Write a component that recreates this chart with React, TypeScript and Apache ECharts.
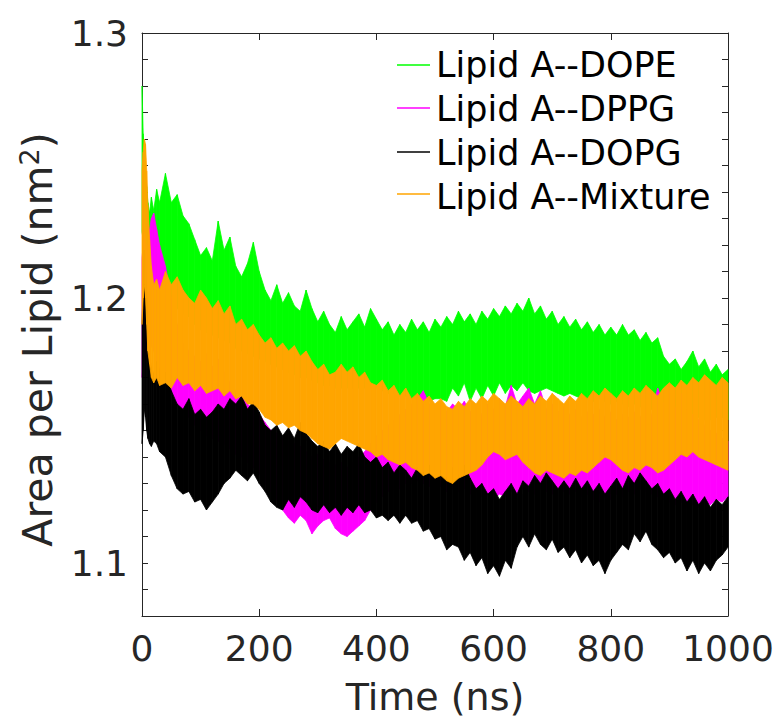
import React, { useEffect, useRef } from 'react';
import * as echarts from 'echarts';

// time (ns)
const TIME = [
  0, 2, 4, 6, 8, 10, 13, 16, 20, 25, 30,
  40, 50, 60, 70, 80, 90, 100, 110, 120, 130,
  140, 150, 160, 170, 180, 190, 200, 210, 220, 230,
  240, 250, 260, 270, 280, 290, 300, 310, 320, 330,
  340, 350, 360, 370, 380, 390, 400, 410, 420, 430,
  440, 450, 460, 470, 480, 490, 500, 510, 520, 530,
  540, 550, 560, 570, 580, 590, 600, 610, 620, 630,
  640, 650, 660, 670, 680, 690, 700, 710, 720, 730,
  740, 750, 760, 770, 780, 790, 800, 810, 820, 830,
  840, 850, 860, 870, 880, 890, 900, 910, 920, 930,
  940, 950, 960, 970, 980, 990, 1000,
];

const SERIES_NAMES = ['Lipid A--DOPE', 'Lipid A--DPPG', 'Lipid A--DOPG', 'Lipid A--Mixture'];
const COLORS = ['#00ff00', '#ff00ff', '#000000', '#ffa500'];

// upper / lower envelope of each noisy trace (nm^2)
const DOPE_HI = [
  1.280, 1.262, 1.255, 1.248, 1.242, 1.236, 1.232, 1.238, 1.233, 1.241, 1.236,
  1.247, 1.236, 1.239, 1.231, 1.228, 1.222, 1.216, 1.219, 1.214, 1.229,
  1.218, 1.223, 1.212, 1.208, 1.213, 1.221, 1.210, 1.203, 1.199, 1.205,
  1.198, 1.202, 1.197, 1.195, 1.203, 1.196, 1.191, 1.195, 1.190, 1.187,
  1.193, 1.188, 1.191, 1.194, 1.189, 1.196, 1.192, 1.188, 1.191, 1.186,
  1.190, 1.187, 1.192, 1.188, 1.191, 1.187, 1.192, 1.189, 1.193, 1.190,
  1.195, 1.191, 1.194, 1.190, 1.195, 1.192, 1.196, 1.193, 1.197, 1.194,
  1.198, 1.195, 1.200, 1.194, 1.197, 1.192, 1.195, 1.190, 1.193, 1.189,
  1.192, 1.188, 1.191, 1.187, 1.190, 1.186, 1.189, 1.186, 1.190, 1.186,
  1.188, 1.184, 1.187, 1.183, 1.185, 1.178, 1.175, 1.177, 1.173, 1.176,
  1.180, 1.174, 1.177, 1.172, 1.175, 1.171, 1.173,
];
const DOPE_LO = [
  1.225, 1.222, 1.218, 1.214, 1.210, 1.207, 1.205, 1.204, 1.203, 1.203, 1.200,
  1.199, 1.197, 1.196, 1.194, 1.193, 1.190, 1.188, 1.187, 1.186, 1.185,
  1.184, 1.183, 1.181, 1.180, 1.179, 1.178, 1.177, 1.176, 1.175, 1.174,
  1.173, 1.172, 1.171, 1.170, 1.170, 1.169, 1.168, 1.167, 1.167, 1.166,
  1.166, 1.166, 1.166, 1.166, 1.166, 1.166, 1.166, 1.165, 1.164, 1.164,
  1.163, 1.163, 1.162, 1.162, 1.162, 1.161, 1.162, 1.162, 1.161, 1.166,
  1.163, 1.168, 1.161, 1.166, 1.162, 1.167, 1.163, 1.168, 1.164, 1.167,
  1.165, 1.168, 1.165, 1.164, 1.165, 1.166, 1.165, 1.164, 1.163, 1.164,
  1.163, 1.162, 1.162, 1.161, 1.162, 1.161, 1.160, 1.161, 1.160, 1.159,
  1.160, 1.159, 1.158, 1.158, 1.157, 1.157, 1.156, 1.156, 1.156, 1.155,
  1.155, 1.155, 1.154, 1.154, 1.155, 1.155, 1.154,
];
const DPPG_HI = [
  1.215, 1.220, 1.225, 1.222, 1.218, 1.220, 1.226, 1.230, 1.232, 1.226, 1.220,
  1.212, 1.200, 1.190, 1.183, 1.180, 1.178, 1.176, 1.179, 1.174, 1.177,
  1.172, 1.168, 1.165, 1.163, 1.160, 1.158, 1.156, 1.153, 1.150, 1.149,
  1.147, 1.146, 1.145, 1.144, 1.142, 1.140, 1.141, 1.139, 1.138, 1.137,
  1.138, 1.136, 1.138, 1.140, 1.142, 1.145, 1.148, 1.150, 1.152, 1.154,
  1.156, 1.158, 1.160, 1.162, 1.165, 1.160, 1.158, 1.161, 1.157, 1.160,
  1.158, 1.161, 1.157, 1.159, 1.156, 1.160, 1.158, 1.162, 1.159, 1.167,
  1.160, 1.163, 1.166, 1.160, 1.165, 1.158, 1.160, 1.157, 1.159, 1.156,
  1.158, 1.155, 1.157, 1.156, 1.158, 1.155, 1.157, 1.154, 1.156, 1.155,
  1.157, 1.155, 1.158, 1.156, 1.166, 1.160, 1.165, 1.158, 1.164, 1.157,
  1.156, 1.154, 1.152, 1.150, 1.149, 1.147, 1.146,
];
const DPPG_LO = [
  1.170, 1.175, 1.178, 1.180, 1.178, 1.176, 1.180, 1.182, 1.180, 1.176, 1.172,
  1.168, 1.165, 1.160, 1.157, 1.155, 1.152, 1.150, 1.148, 1.147, 1.146,
  1.145, 1.143, 1.141, 1.140, 1.138, 1.136, 1.134, 1.130, 1.127, 1.124,
  1.120, 1.117, 1.115, 1.118, 1.116, 1.111, 1.114, 1.116, 1.117, 1.113,
  1.111, 1.110, 1.112, 1.114, 1.116, 1.120, 1.123, 1.125, 1.127, 1.128,
  1.128, 1.130, 1.130, 1.131, 1.130, 1.129, 1.128, 1.129, 1.127, 1.128,
  1.127, 1.128, 1.126, 1.127, 1.125, 1.126, 1.124, 1.126, 1.125, 1.127,
  1.126, 1.128, 1.127, 1.126, 1.128, 1.127, 1.126, 1.128, 1.127, 1.126,
  1.127, 1.125, 1.126, 1.124, 1.123, 1.125, 1.124, 1.126, 1.125, 1.127,
  1.126, 1.128, 1.127, 1.126, 1.125, 1.124, 1.123, 1.122, 1.123, 1.121,
  1.122, 1.121, 1.123, 1.122, 1.124, 1.123, 1.125,
];
const DOPG_HI = [
  1.190, 1.205, 1.218, 1.215, 1.200, 1.185, 1.178, 1.174, 1.171, 1.176, 1.173,
  1.172, 1.165, 1.160, 1.158, 1.162, 1.156, 1.158, 1.155, 1.157, 1.160,
  1.158, 1.162, 1.160, 1.163, 1.158, 1.161, 1.157, 1.152, 1.150, 1.152,
  1.148, 1.151, 1.147, 1.153, 1.149, 1.146, 1.144, 1.146, 1.142, 1.145,
  1.141, 1.144, 1.142, 1.145, 1.140, 1.138, 1.140, 1.136, 1.138, 1.134,
  1.137, 1.135, 1.132, 1.136, 1.134, 1.137, 1.133, 1.135, 1.132, 1.136,
  1.133, 1.137, 1.132, 1.128, 1.130, 1.126, 1.128, 1.124, 1.127, 1.130,
  1.126, 1.131, 1.129, 1.133, 1.130, 1.134, 1.131, 1.128, 1.131, 1.128,
  1.132, 1.128, 1.131, 1.127, 1.130, 1.126, 1.129, 1.132, 1.128, 1.133,
  1.130, 1.134, 1.131, 1.128, 1.130, 1.126, 1.128, 1.124, 1.127, 1.123,
  1.126, 1.122, 1.125, 1.121, 1.124, 1.122, 1.125,
];
const DOPG_LO = [
  1.145, 1.150, 1.158, 1.155, 1.150, 1.147, 1.145, 1.144, 1.146, 1.145, 1.142,
  1.140, 1.133, 1.128, 1.126, 1.127, 1.123, 1.124, 1.120, 1.123, 1.126,
  1.130, 1.132, 1.135, 1.133, 1.131, 1.134, 1.130, 1.127, 1.123, 1.121,
  1.120, 1.124, 1.121, 1.125, 1.123, 1.120, 1.119, 1.122, 1.119, 1.121,
  1.118, 1.121, 1.119, 1.122, 1.119, 1.120, 1.117, 1.118, 1.116, 1.118,
  1.115, 1.118, 1.115, 1.116, 1.112, 1.113, 1.109, 1.110, 1.105, 1.107,
  1.106, 1.101, 1.104, 1.099, 1.102, 1.096, 1.099, 1.095, 1.101, 1.098,
  1.106, 1.110, 1.106, 1.111, 1.107, 1.105, 1.109, 1.104, 1.106, 1.102,
  1.105, 1.100, 1.103, 1.099, 1.101, 1.096, 1.101, 1.104, 1.107, 1.105,
  1.111, 1.108, 1.112, 1.107, 1.105, 1.102, 1.104, 1.100, 1.102, 1.097,
  1.101, 1.096, 1.100, 1.097, 1.101, 1.103, 1.106,
];
const MIX_HI = [
  1.248, 1.255, 1.260, 1.258, 1.248, 1.235, 1.222, 1.212, 1.205, 1.207, 1.203,
  1.210, 1.205, 1.208, 1.203, 1.200, 1.198, 1.203, 1.200, 1.196, 1.199,
  1.194, 1.197, 1.190, 1.192, 1.188, 1.190, 1.186, 1.183, 1.185, 1.181,
  1.183, 1.180, 1.182, 1.178, 1.180, 1.176, 1.173, 1.175, 1.171, 1.172,
  1.175, 1.172, 1.174, 1.170, 1.172, 1.168, 1.167, 1.169, 1.165, 1.167,
  1.163, 1.166, 1.162, 1.164, 1.161, 1.163, 1.160, 1.162, 1.159, 1.158,
  1.161, 1.159, 1.162, 1.160, 1.163, 1.161, 1.164, 1.162, 1.160, 1.163,
  1.161, 1.159, 1.162, 1.160, 1.163, 1.161, 1.164, 1.162, 1.160, 1.163,
  1.161, 1.164, 1.162, 1.165, 1.163, 1.166, 1.164, 1.162, 1.165, 1.163,
  1.166, 1.164, 1.167, 1.165, 1.163, 1.166, 1.168, 1.166, 1.169, 1.167,
  1.170, 1.168, 1.171, 1.169, 1.167, 1.170, 1.168,
];
const MIX_LO = [
  1.190, 1.200, 1.205, 1.200, 1.190, 1.180, 1.175, 1.170, 1.168, 1.170, 1.167,
  1.168, 1.166, 1.170, 1.167, 1.168, 1.165, 1.167, 1.164, 1.165, 1.166,
  1.163, 1.165, 1.162, 1.163, 1.160, 1.160, 1.158, 1.155, 1.154, 1.152,
  1.153, 1.151, 1.152, 1.150, 1.149, 1.147, 1.145, 1.144, 1.143, 1.145,
  1.147, 1.146, 1.145, 1.144, 1.143, 1.142, 1.140, 1.141, 1.139, 1.138,
  1.137, 1.138, 1.136, 1.135, 1.133, 1.134, 1.132, 1.133, 1.131, 1.130,
  1.132, 1.133, 1.134, 1.135, 1.137, 1.140, 1.142, 1.141, 1.139, 1.140,
  1.141, 1.138, 1.136, 1.134, 1.133, 1.135, 1.134, 1.133, 1.132, 1.134,
  1.133, 1.135, 1.134, 1.136, 1.138, 1.140, 1.139, 1.137, 1.135, 1.134,
  1.136, 1.135, 1.137, 1.136, 1.134, 1.135, 1.137, 1.139, 1.141, 1.140,
  1.142, 1.140, 1.139, 1.138, 1.137, 1.136, 1.135,
];

const FONT = 'DejaVu Sans';
const AXIS_COLOR = '#262626';

export default function App() {
  const ref = useRef<HTMLDivElement>(null);

  useEffect(() => {
    if (!ref.current) return;
    const chart = echarts.init(ref.current, null, { renderer: 'svg' });
    const bands = [
      [DOPE_LO, DOPE_HI],
      [DPPG_LO, DPPG_HI],
      [DOPG_LO, DOPG_HI],
      [MIX_LO, MIX_HI],
    ];

    const series: any[] = bands.map(([lo, hi], k) => ({
      name: SERIES_NAMES[k],
      type: 'custom',
      xAxisIndex: 0,
      yAxisIndex: 0,
      silent: true,
      color: COLORS[k],
      itemStyle: { color: COLORS[k] },
      encode: { x: 0, y: [1, 2] },
      data: TIME.map((t, i) => [t, lo[i], hi[i]]),
      renderItem: (params: any, api: any) => {
        const i = params.dataIndex;
        if (i >= TIME.length - 1) return null;
        const a = api.coord([TIME[i], hi[i]]);
        const b = api.coord([TIME[i + 1], hi[i + 1]]);
        const c = api.coord([TIME[i + 1], lo[i + 1]]);
        const d = api.coord([TIME[i], lo[i]]);
        return {
          type: 'polygon',
          shape: { points: [a, b, c, d] },
          style: { fill: COLORS[k], stroke: COLORS[k], lineWidth: 0.8 },
        };
      },
    }));

    // thin line keys drawn next to the legend texts
    const LEGEND_X0 = 397;
    const LEGEND_X1 = 430;
    const LEGEND_ROWS = [65, 108, 152, 194];
    const legendKeys = LEGEND_ROWS.map((y, k) => ({
      type: 'line',
      shape: { x1: LEGEND_X0, y1: y, x2: LEGEND_X1, y2: y },
      style: { stroke: COLORS[k], lineWidth: 1.5 },
      z: 100,
    }));

    const tickStyle = { color: AXIS_COLOR, width: 1 };
    const lineStyle = { color: AXIS_COLOR, width: 1 };

    chart.setOption({
      animation: false,
      backgroundColor: '#ffffff',
      grid: { left: 142, top: 33, width: 586, height: 586, containLabel: false },
      legend: {
        orient: 'vertical',
        left: 393,
        top: 42,
        itemWidth: 33,
        itemHeight: 2,
        itemGap: 9,
        icon: 'rect',
        selectedMode: false,
        itemStyle: { opacity: 0, borderWidth: 0 },
        lineStyle: { opacity: 0, width: 0 },
        data: SERIES_NAMES,
        textStyle: { fontSize: 35, color: '#000000', fontFamily: FONT, lineHeight: 34 },
      },
      graphic: legendKeys,
      xAxis: [
        {
          type: 'value',
          min: 0,
          max: 1000,
          interval: 200,
          position: 'bottom',
          axisLine: { show: true, onZero: false, lineStyle },
          axisTick: { show: true, inside: true, length: 7, lineStyle: tickStyle },
          axisLabel: {
            fontSize: 36,
            color: AXIS_COLOR,
            fontFamily: FONT,
            margin: 14,
            formatter: (v: number) => String(v),
          },
          splitLine: { show: false },
          name: 'Time (ns)',
          nameLocation: 'middle',
          nameGap: 62,
          nameTextStyle: { fontSize: 38, color: AXIS_COLOR, fontFamily: FONT },
        },
        {
          type: 'value',
          min: 0,
          max: 1000,
          interval: 200,
          position: 'top',
          axisLine: { show: true, onZero: false, lineStyle },
          axisTick: { show: true, inside: true, length: 7, lineStyle: tickStyle },
          axisLabel: { show: false },
          splitLine: { show: false },
        },
      ],
      yAxis: [
        {
          type: 'value',
          min: 1.08,
          max: 1.3,
          interval: 0.01,
          position: 'left',
          axisLine: { show: true, onZero: false, lineStyle },
          axisTick: { show: true, inside: true, length: 6, lineStyle: tickStyle },
          axisLabel: {
            fontSize: 36,
            color: AXIS_COLOR,
            fontFamily: FONT,
            margin: 14,
            formatter: (v: number) =>
              Math.abs(v * 10 - Math.round(v * 10)) < 1e-6 ? v.toFixed(1) : '',
          },
          splitLine: { show: false },
          name: 'Area per Lipid (nm{sup|2})',
          nameLocation: 'middle',
          nameRotate: 90,
          nameGap: 70,
          nameTextStyle: {
            fontSize: 41,
            color: AXIS_COLOR,
            fontFamily: FONT,
            lineHeight: 44,
            padding: [0, 30, 0, 0],
            rich: {
              sup: { fontSize: 27, lineHeight: 27, verticalAlign: 'top', color: AXIS_COLOR, fontFamily: FONT },
            },
          },
        },
        {
          type: 'value',
          min: 1.08,
          max: 1.3,
          interval: 0.01,
          position: 'right',
          axisLine: { show: true, onZero: false, lineStyle },
          axisTick: { show: true, inside: true, length: 6, lineStyle: tickStyle },
          axisLabel: { show: false },
          splitLine: { show: false },
        },
      ],
      series,
    });

    return () => chart.dispose();
  }, []);

  return (
    <div
      ref={ref}
      style={{ position: 'absolute', left: 0, top: 0, width: 783, height: 721 }}
    />
  );
}
